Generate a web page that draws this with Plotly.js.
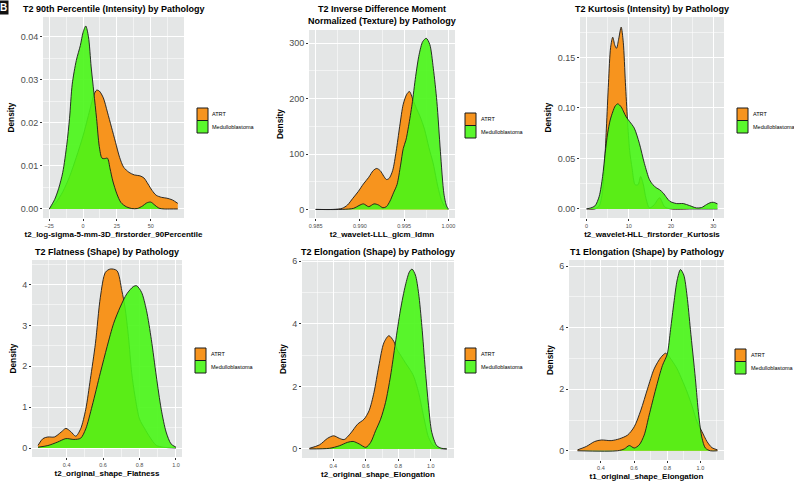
<!DOCTYPE html>
<html>
<head>
<meta charset="utf-8">
<script src="https://cdn.plot.ly/plotly-3.0.1.min.js"></script>
<style>
  html, body { margin: 0; padding: 0; background: #fff; }
  #chart { width: 794px; height: 484px; }
</style>
</head>
<body>
<div id="chart"></div>
<script>
// density curves, one pair of arrays per group and panel
const p1AtrtX = [-25, -20, -15, -10, -5, 0, 5, 8, 10, 12, 15, 18, 21, 24, 27, 30, 34, 38, 42, 45, 48, 51, 54, 58, 62, 66, 70];
const p1AtrtY = [0, 0.0015, 0.004, 0.0075, 0.012, 0.017, 0.023, 0.0265, 0.0276, 0.0274, 0.0258, 0.0225, 0.019, 0.0155, 0.012, 0.0097, 0.0085, 0.0079, 0.0077, 0.0072, 0.0058, 0.0043, 0.0032, 0.0027, 0.0025, 0.0021, 0.0013];
const p1MedX = [-25, -21, -18, -15, -12, -10, -8, -5, -2, 0, 2, 4, 6, 8, 10, 12, 14, 16, 18, 20, 22, 25, 28, 32, 36, 40, 44, 47, 50, 53, 56, 60, 65, 70];
const p1MedY = [0, 0.0022, 0.0048, 0.0085, 0.015, 0.021, 0.029, 0.0345, 0.038, 0.041, 0.0425, 0.040, 0.033, 0.027, 0.021, 0.0145, 0.0118, 0.0117, 0.0118, 0.0093, 0.0065, 0.0035, 0.0015, 0.0005, 0.0001, 0.0001, 0.0007, 0.0014, 0.0016, 0.0009, 0.0002, 0, 0, 0];

const p2AtrtX = [0.985, 0.987, 0.988, 0.9886, 0.9892, 0.9898, 0.9904, 0.991, 0.9915, 0.9919, 0.9923, 0.9927, 0.993, 0.9933, 0.9937, 0.9941, 0.9945, 0.9949, 0.9953, 0.9956, 0.996, 0.9964, 0.9968, 0.9973, 0.9978, 0.9983, 0.9988, 0.9992, 0.9996, 1.0];
const p2AtrtY = [0, 0, 2, 8, 20, 32, 46, 58, 70, 74, 70, 60, 54, 56, 70, 105, 150, 190, 208, 213, 198, 182, 168, 145, 112, 82, 42, 18, 5, 0];
const p2MedX = [0.985, 0.988, 0.9893, 0.9899, 0.9904, 0.991, 0.9916, 0.9921, 0.9926, 0.993, 0.9934, 0.9938, 0.9942, 0.9946, 0.9949, 0.9952, 0.9955, 0.9959, 0.9963, 0.9967, 0.9971, 0.9975, 0.9979, 0.9983, 0.9987, 0.9991, 0.9995, 0.9998, 1.0];
const p2MedY = [0, 0, 2, 7, 10, 5, 10, 8, 3, 5, 15, 30, 45, 80, 110, 125, 150, 190, 240, 280, 303, 309, 298, 255, 195, 105, 28, 6, 1];

const p3AtrtX = [0, 2, 3, 3.7, 4.2, 4.7, 5.2, 5.7, 6.2, 6.7, 7.1, 7.6, 8.2, 8.7, 9.2, 9.7, 10.2, 10.8, 11.5, 12.2, 12.8, 13.4, 14.1, 14.9, 16, 17.3, 18.5, 20, 25, 31];
const p3AtrtY = [0, 0, 0.003, 0.015, 0.04, 0.08, 0.125, 0.16, 0.17, 0.162, 0.159, 0.168, 0.18, 0.165, 0.125, 0.088, 0.058, 0.04, 0.024, 0.024, 0.032, 0.025, 0.01, 0.001, 0.004, 0.011, 0.002, 0, 0, 0];
const p3MedX = [0, 1, 2, 3, 3.8, 4.4, 5, 5.6, 6.2, 6.8, 7.4, 8.2, 8.8, 9.4, 10.2, 11.3, 12.5, 13.7, 14.9, 15.7, 16.5, 17.3, 18.1, 19, 19.7, 21.3, 22.9, 24.4, 26, 27.2, 28.4, 29.2, 30, 31];
const p3MedY = [0, 0.001, 0.003, 0.0125, 0.032, 0.055, 0.075, 0.088, 0.096, 0.102, 0.104, 0.101, 0.096, 0.091, 0.0865, 0.08, 0.065, 0.045, 0.029, 0.024, 0.021, 0.019, 0.016, 0.011, 0.0076, 0.0053, 0.0053, 0.0033, 0.001, 0.0013, 0.0043, 0.006, 0.0066, 0.005];

const p4AtrtX = [0.243, 0.27, 0.297, 0.333, 0.37, 0.396, 0.423, 0.45, 0.477, 0.505, 0.53, 0.558, 0.585, 0.613, 0.64, 0.676, 0.703, 0.72, 0.739, 0.757, 0.775, 0.8, 0.829, 0.856, 0.892, 0.93, 1.0];
const p4AtrtY = [0.065, 0.23, 0.27, 0.27, 0.39, 0.48, 0.4, 0.29, 0.47, 0.95, 1.68, 2.56, 3.69, 4.3, 4.38, 4.34, 3.85, 3.45, 2.73, 1.84, 1.27, 0.71, 0.47, 0.27, 0.065, 0.02, 0];
const p4MedX = [0.243, 0.297, 0.35, 0.396, 0.44, 0.477, 0.505, 0.54, 0.585, 0.622, 0.658, 0.694, 0.73, 0.766, 0.784, 0.811, 0.838, 0.865, 0.892, 0.919, 0.946, 0.973, 1.0];
const p4MedY = [0.02, 0.06, 0.145, 0.23, 0.21, 0.24, 0.47, 1.03, 1.84, 2.48, 3.05, 3.45, 3.77, 3.95, 3.97, 3.81, 3.37, 2.65, 1.76, 0.95, 0.39, 0.1, 0.02];

const p5AtrtX = [0.253, 0.315, 0.365, 0.402, 0.437, 0.467, 0.508, 0.549, 0.589, 0.62, 0.65, 0.68, 0.711, 0.742, 0.772, 0.793, 0.82, 0.844, 0.87, 0.894, 0.925, 0.955, 0.986, 1.016, 1.047, 1.098];
const p5AtrtY = [0.02, 0.13, 0.34, 0.42, 0.34, 0.3, 0.51, 0.79, 0.95, 1.22, 1.8, 2.65, 3.39, 3.62, 3.44, 3.17, 2.95, 2.75, 2.55, 2.33, 1.8, 1.06, 0.37, 0.1, 0.02, 0];
const p5MedX = [0.253, 0.376, 0.437, 0.487, 0.522, 0.559, 0.6, 0.63, 0.66, 0.691, 0.721, 0.752, 0.782, 0.813, 0.844, 0.868, 0.884, 0.905, 0.925, 0.945, 0.966, 0.986, 1.006, 1.037, 1.067, 1.098];
const p5MedY = [0, 0.02, 0.1, 0.21, 0.24, 0.16, 0.05, 0.21, 0.58, 0.95, 1.48, 2.33, 3.39, 4.44, 5.24, 5.66, 5.75, 5.56, 4.97, 3.92, 2.54, 1.38, 0.53, 0.1, 0.02, 0];

const p6AtrtX = [0.259, 0.312, 0.362, 0.402, 0.462, 0.512, 0.561, 0.601, 0.641, 0.681, 0.721, 0.761, 0.79, 0.804, 0.83, 0.86, 0.89, 0.92, 0.95, 0.98, 1.01, 1.04, 1.07, 1.103];
const p6AtrtY = [0.03, 0.14, 0.3, 0.35, 0.33, 0.39, 0.51, 0.78, 1.32, 2.01, 2.66, 3.03, 3.17, 3.11, 2.92, 2.66, 2.3, 1.91, 1.45, 0.94, 0.62, 0.3, 0.1, 0.03];
const p6MedX = [0.259, 0.5, 0.541, 0.571, 0.601, 0.631, 0.661, 0.691, 0.731, 0.771, 0.8, 0.82, 0.84, 0.86, 0.88, 0.9, 0.92, 0.94, 0.97, 0.99, 1.01, 1.03, 1.06, 1.103];
const p6MedY = [0, 0, 0.06, 0.17, 0.09, 0.19, 0.51, 1.16, 2.01, 2.77, 3.14, 3.94, 4.8, 5.55, 5.89, 5.71, 5.02, 3.94, 2.34, 1.16, 0.41, 0.09, 0, 0];

const groups = ['ATRT', 'Medulloblastoma'];
const panelTitles = [
  'T2 90th Percentile (Intensity) by Pathology',
  'T2 Inverse Difference Moment<br>Normalized (Texture) by Pathology',
  'T2 Kurtosis (Intensity) by Pathology',
  'T2 Flatness (Shape) by Pathology',
  'T2 Elongation (Shape) by Pathology',
  'T1 Elongation (Shape) by Pathology',
];
const xTitles = [
  't2_log-sigma-5-mm-3D_firstorder_90Percentile',
  't2_wavelet-LLL_glcm_Idmn',
  't2_wavelet-HLL_firstorder_Kurtosis',
  't2_original_shape_Flatness',
  't2_original_shape_Elongation',
  't1_original_shape_Elongation',
];

const W = 794, H = 484;
const ORANGE = '#F7941E';
const GREEN = 'rgba(72,246,22,0.9)';
const FONT = 'Liberation Sans, Arial, sans-serif';

// page geometry of each panel, in pixels
const panels = [
  { box: [43, 184, 17, 218], xr: [-29.6, 74.6], yr: [-0.0021, 0.0446], x0: -25, xd: 25, yd: 0.01, xf: '', yf: '.2f', titleY: 9.5, key: [197, 108] },
  { box: [309, 455, 30, 218], xr: [0.98425, 1.00075], yr: [-15.5, 324], x0: 0.985, xd: 0.005, yd: 100, xf: '.3f', yf: '', titleY: 15, key: [465, 113] },
  { box: [580, 724, 17, 218], xr: [-1.55, 32.55], yr: [-0.009, 0.19], x0: 0, xd: 10, yd: 0.05, xf: '', yf: '.2f', titleY: 9.5, key: [737, 108] },
  { box: [32, 182, 260, 457], xr: [0.21, 1.033], yr: [-0.22, 4.6], x0: 0, xd: 0.2, yd: 1, xf: '.1f', yf: '', titleY: 252, key: [195, 348] },
  { box: [302, 454, 260, 458], xr: [0.2075, 1.1425], yr: [-0.29, 6.04], x0: 0, xd: 0.2, yd: 2, xf: '.1f', yf: '', titleY: 252, key: [465, 348] },
  { box: [569, 724, 260, 460], xr: [0.2075, 1.1425], yr: [-0.3, 6.2], x0: 0, xd: 0.2, yd: 2, xf: '.1f', yf: '', titleY: 252, key: [735, 349] },
];

const series = [
  [p1AtrtX, p1AtrtY, p1MedX, p1MedY],
  [p2AtrtX, p2AtrtY, p2MedX, p2MedY],
  [p3AtrtX, p3AtrtY, p3MedX, p3MedY],
  [p4AtrtX, p4AtrtY, p4MedX, p4MedY],
  [p5AtrtX, p5AtrtY, p5MedX, p5MedY],
  [p6AtrtX, p6AtrtY, p6MedX, p6MedY],
];

function px(x) { return x / W; }
function py(y) { return 1 - y / H; }

function densityTrace(x, y, fill, i) {
  const n = i === 0 ? '' : String(i + 1);
  return {
    x: x,
    y: y,
    type: 'scatter',
    mode: 'lines',
    fill: 'tozeroy',
    fillcolor: fill,
    line: { color: '#1a1a1a', width: 0.9, shape: 'spline', smoothing: 0.8 },
    xaxis: 'x' + n,
    yaxis: 'y' + n,
    showlegend: false,
    hoverinfo: 'skip',
  };
}

const traces = [];
series.forEach((s, i) => {
  traces.push(densityTrace(s[0], s[1], ORANGE, i));
  traces.push(densityTrace(s[2], s[3], GREEN, i));
});

const layout = {
  width: W,
  height: H,
  margin: { t: 0, r: 0, b: 0, l: 0 },
  paper_bgcolor: '#ffffff',
  plot_bgcolor: '#E4E6E6',
  showlegend: false,
  font: { family: FONT, color: '#000' },
  shapes: [],
  annotations: [],
};

panels.forEach((p, i) => {
  const n = i === 0 ? '' : String(i + 1);
  const [l, r, t, b] = p.box;
  layout['xaxis' + n] = {
    domain: [px(l), px(r)],
    anchor: 'y' + n,
    range: p.xr,
    tick0: p.x0,
    dtick: p.xd,
    tickformat: p.xf,
    showgrid: true,
    gridcolor: '#ffffff',
    gridwidth: 1,
    minor: { dtick: p.xd / 2, tick0: p.x0, showgrid: true, gridcolor: '#ffffff', gridwidth: 0.5 },
    zeroline: false,
    ticks: 'outside',
    ticklen: 2,
    tickcolor: '#333',
    tickfont: { size: 5.5, color: '#4d4d4d', family: FONT },
    title: { text: xTitles[i], font: { size: 8, weight: 'bold', color: '#000', family: FONT }, standoff: 3 },
  };
  layout['yaxis' + n] = {
    domain: [py(b), py(t)],
    anchor: 'x' + n,
    range: p.yr,
    tick0: 0,
    dtick: p.yd,
    tickformat: p.yf,
    showgrid: true,
    gridcolor: '#ffffff',
    gridwidth: 1,
    minor: { dtick: p.yd / 2, tick0: 0, showgrid: true, gridcolor: '#ffffff', gridwidth: 0.5 },
    zeroline: false,
    ticks: 'outside',
    ticklen: 2,
    tickcolor: '#333',
    tickfont: { size: 9, color: '#4d4d4d', family: FONT },
    title: { text: 'Density', font: { size: 8.3, weight: 'bold', color: '#000', family: FONT }, standoff: 4 },
  };

  layout.annotations.push({
    xref: 'paper', yref: 'paper',
    x: px((l + r) / 2), y: py(p.titleY),
    xanchor: 'center', yanchor: 'middle',
    text: panelTitles[i],
    showarrow: false,
    font: { size: 9, weight: 'bold', color: '#000', family: FONT },
  });

  // ggplot-style legend: two outlined key boxes with labels
  const [kx, ky] = p.key;
  [ORANGE, GREEN].forEach((c, k) => {
    layout.shapes.push({
      type: 'rect', xref: 'paper', yref: 'paper',
      x0: px(kx), x1: px(kx + 11),
      y0: py(ky + 12.5 * k), y1: py(ky + 12.5 * (k + 1)),
      fillcolor: c,
      line: { color: '#1a1a1a', width: 1 },
    });
    layout.annotations.push({
      xref: 'paper', yref: 'paper',
      x: px(kx + 13.5), y: py(ky + 12.5 * k + 6.25),
      xanchor: 'left', yanchor: 'middle',
      text: groups[k],
      showarrow: false,
      font: { size: 5.5, color: '#000', family: FONT },
    });
  });
});

// panel letter in the top-left corner
layout.annotations.push({
  xref: 'paper', yref: 'paper',
  x: px(-2), y: py(0),
  xanchor: 'left', yanchor: 'top',
  text: 'B',
  showarrow: false,
  bgcolor: '#111',
  borderpad: 1,
  font: { size: 10, weight: 'bold', color: '#fff', family: FONT },
});

Plotly.newPlot('chart', traces, layout, { staticPlot: true });
</script>
</body>
</html>
